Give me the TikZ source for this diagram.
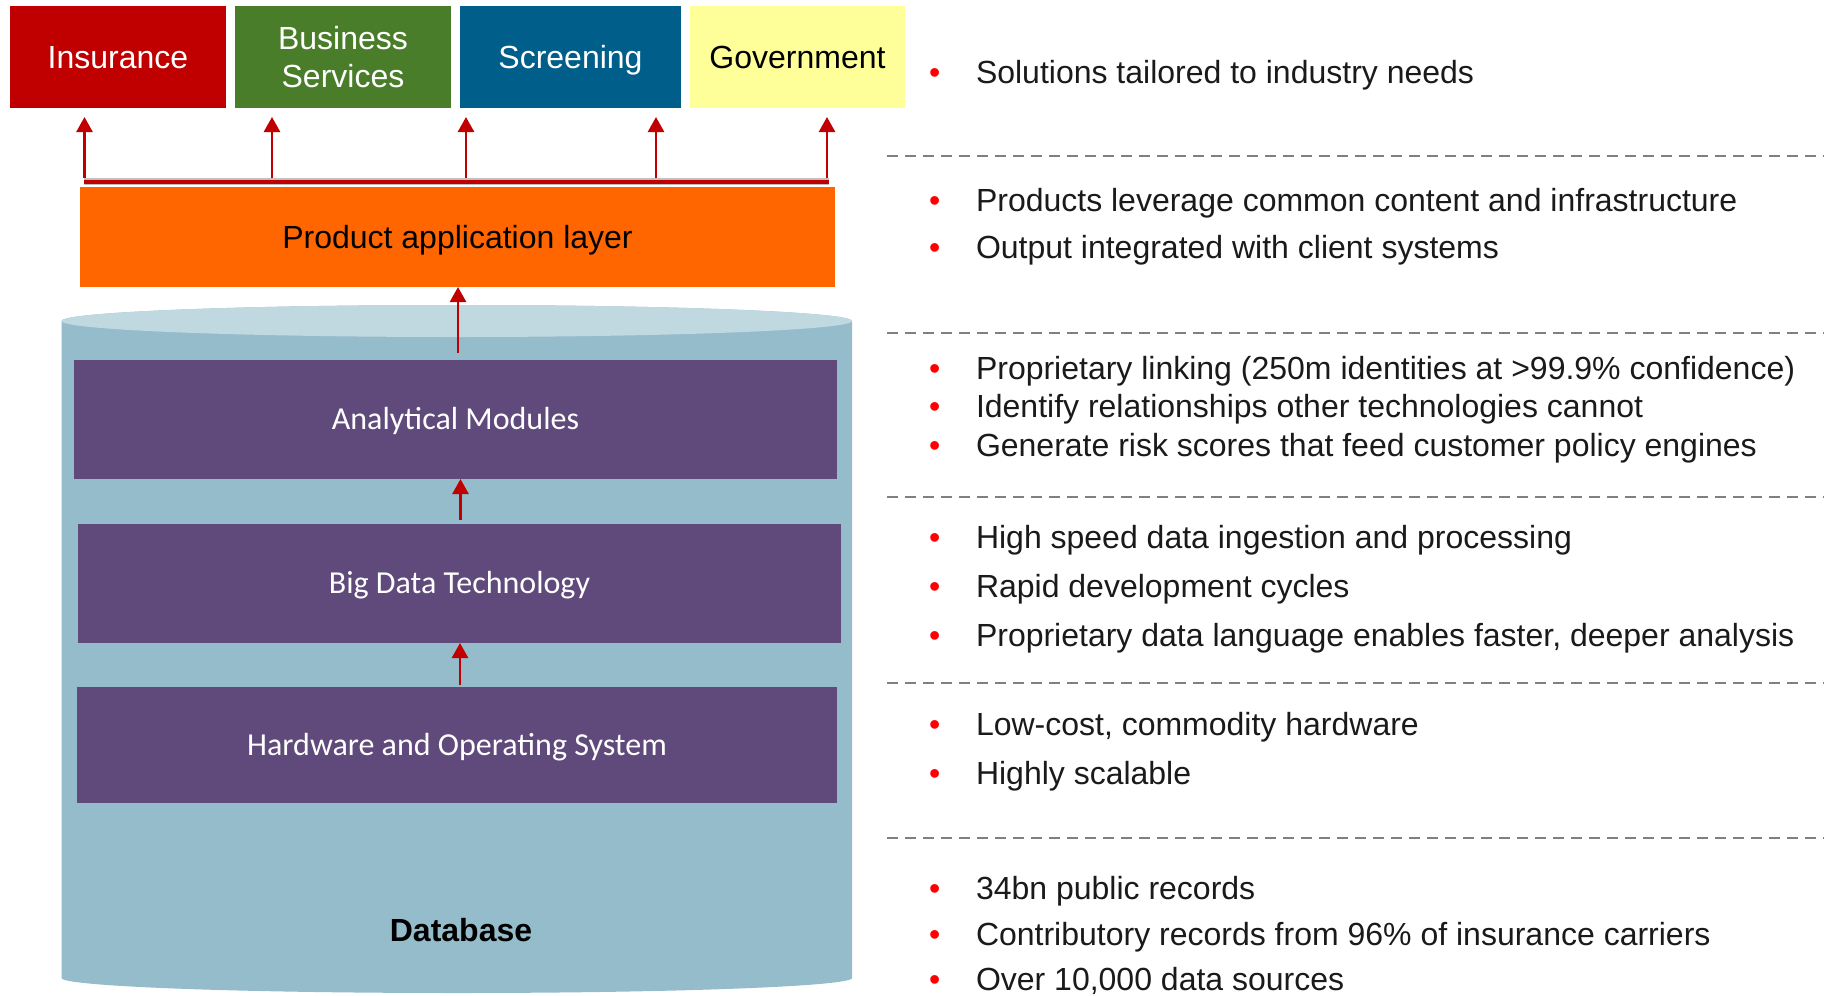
\documentclass[tikz,border=0pt]{standalone}
\usepackage{fontspec}
\setmainfont{Liberation Sans}
\newfontfamily\calibrifont{Carlito}
\usetikzlibrary{arrows.meta}
\definecolor{insred}{RGB}{192,0,0}
\definecolor{busgreen}{RGB}{74,125,42}
\definecolor{scrblue}{RGB}{0,94,138}
\definecolor{govyellow}{RGB}{255,255,153}
\definecolor{palorange}{RGB}{255,102,0}
\definecolor{purplebox}{RGB}{96,74,123}
\definecolor{cylbody}{RGB}{149,188,203}
\definecolor{cyltop}{RGB}{192,217,224}
\definecolor{arrred}{RGB}{192,0,0}
\definecolor{bulred}{RGB}{255,0,0}
\definecolor{dashgray}{RGB}{128,128,128}
\definecolor{textdark}{RGB}{26,26,26}
\newcommand\itembullet{\makebox[47pt][l]{\textcolor{bulred}{•}}}
\begin{document}
\begin{tikzpicture}[x=1pt,y=-1pt,
 box/.style={inner sep=0pt, outer sep=0pt, text height=23pt, text depth=0pt, font=\fontsize{32}{37}\selectfont},
 layer/.style={box, fill=purplebox, text=white, text height=20.6pt, font=\calibrifont\fontsize{32}{38}\selectfont},
 arr/.style={draw=arrred, line width=2.5pt, -{Triangle[length=15pt,width=16pt]}},
 sep/.style={draw=dashgray, line width=2pt, dash pattern=on 11pt off 7pt},
 item/.style={anchor=base west, inner sep=0pt, outer sep=0pt, font=\fontsize{32}{38}\selectfont, text=textdark},
]
\useasboundingbox (0,0) rectangle (1824,996);
\fill[white] (0,0) rectangle (1824,996);

% cylinder
\fill[cylbody] (61.5,321) -- (61.5,978) arc[start angle=180, end angle=360, x radius=395.25pt, y radius=15pt] -- (852,321) arc[start angle=0, end angle=180, x radius=395.25pt, y radius=16pt] -- cycle;
\fill[cyltop] (456.75,321) ellipse[x radius=395.25pt, y radius=16pt];
\node[box, font=\bfseries\fontsize{32}{38}\selectfont] (db) at (461,930) {Database};

% top boxes
\node[box, fill=insred, text=white, minimum width=216pt, minimum height=102pt] (ins) at (118,57) {Insurance};
\node[inner sep=0pt, outer sep=0pt, align=center, font=\fontsize{32}{38.5}\selectfont, fill=busgreen, text=white, minimum width=216pt, minimum height=102pt] (bus) at (343,57) {\rule{0pt}{23pt}Business\\Services};
\node[box, fill=scrblue, text=white, minimum width=221pt, minimum height=102pt] (scr) at (570.5,57) {Screening};
\node[box, fill=govyellow, text=black, minimum width=215pt, minimum height=102pt] (gov) at (797.5,57) {Government};

% product layer
\node[box, fill=palorange, text=black, minimum width=755pt, minimum height=100pt] (pal) at (457.5,237) {Product application layer};

% layers
\node[layer, minimum width=763pt, minimum height=119pt] (am) at (455.5,419.5) {Analytical Modules};
\node[layer, minimum width=763pt, minimum height=119pt] (bd) at (459.5,583.5) {Big Data Technology};
\node[layer, minimum width=760pt, minimum height=116pt] (hw) at (457,745) {Hardware and Operating System};

% distribution bar
\coordinate (bl) at (84,181.5);
\coordinate (br) at (829,181.5);
\draw[draw=black!25, line width=6.5pt] (bl) -- (br);
\draw[draw=arrred, line width=4pt] (bl) -- (br);
\coordinate (b1) at (84.5,178);
\coordinate (b2) at (272,178);
\coordinate (b3) at (466,178);
\coordinate (b4) at (656,178);
\coordinate (b5) at (827,178);
\draw[arr, shorten >=9pt] (b1) -- (b1 |- ins.south);
\draw[arr, shorten >=9pt] (b2) -- (b2 |- bus.south);
\draw[arr, shorten >=9pt] (b3) -- (b3 |- scr.south);
\draw[arr, shorten >=9pt] (b4) -- (b4 |- scr.south);
\draw[arr, shorten >=9pt] (b5) -- (b5 |- gov.south);

% vertical arrows
\draw[arr, shorten <=7pt] ([xshift=2.5pt]am.north) -- ([xshift=2.5pt]am.north |- pal.south);
\draw[arr, shorten <=4pt] ([xshift=1pt]bd.north) -- ([xshift=1pt]bd.north |- am.south);
\draw[arr, shorten <=2pt] ([xshift=3pt]hw.north) -- ([xshift=3pt]hw.north |- bd.south);

% separators
\draw[sep] (887,156) -- (1824,156);
\draw[sep] (887,333) -- (1824,333);
\draw[sep] (887,497) -- (1824,497);
\draw[sep] (887,683) -- (1824,683);
\draw[sep] (887,838) -- (1824,838);

% bullet items
\node[item] (t1) at (929,83) {\itembullet Solutions tailored to industry needs};
\node[item] (t2) at (929,211) {\itembullet Products leverage common content and infrastructure};
\node[item] (t3) at (929,258) {\itembullet Output integrated with client systems};
\node[item] (t4) at (929,379) {\itembullet Proprietary linking (250m identities at >99.9\% confidence)};
\node[item] (t5) at (929,417) {\itembullet Identify relationships other technologies cannot};
\node[item] (t6) at (929,456) {\itembullet Generate risk scores that feed customer policy engines};
\node[item] (t7) at (929,548) {\itembullet High speed data ingestion and processing};
\node[item] (t8) at (929,597) {\itembullet Rapid development cycles};
\node[item] (t9) at (929,646) {\itembullet Proprietary data language enables faster, deeper analysis};
\node[item] (t10) at (929,735) {\itembullet Low-cost, commodity hardware};
\node[item] (t11) at (929,784) {\itembullet Highly scalable};
\node[item] (t12) at (929,899) {\itembullet 34bn public records};
\node[item] (t13) at (929,945) {\itembullet Contributory records from 96\% of insurance carriers};
\node[item] (t14) at (929,990) {\itembullet Over 10,000 data sources};
\end{tikzpicture}
\end{document}
